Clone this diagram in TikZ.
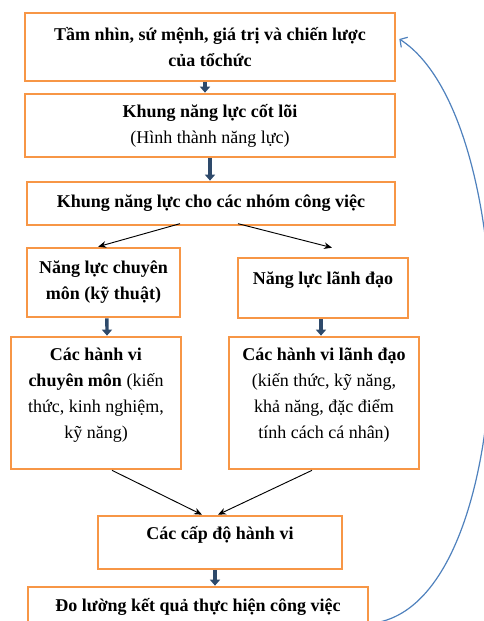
\documentclass[tikz,border=0pt]{standalone}
\usepackage{fontspec}
\setmainfont{Liberation Serif}
\usetikzlibrary{arrows.meta}

\definecolor{boxorange}{HTML}{F79646}
\definecolor{arrownavy}{HTML}{2E4A6B}
\definecolor{loopblue}{HTML}{4F81BD}

\begin{document}
\begin{tikzpicture}[x=0.75pt, y=-0.75pt,
    box/.style={rectangle, draw=boxorange, line width=2pt, align=center, inner sep=2pt, font=\fontsize{13.5}{19.5}\selectfont},
    lift/.style={text depth=#1},
    down/.style={draw=arrownavy, line width=2.6pt, -{Triangle[length=4.5pt,width=7.5pt]}},
    split/.style={draw=black, line width=0.7pt, -{Stealth[length=6pt,width=5pt]}},
    back/.style={draw=loopblue, line width=0.9pt, -{Straight Barb[length=4pt,width=9pt]}}]
    \useasboundingbox (0,0) rectangle (484,621);
    \clip (0,0) rectangle (484,621);

    % Nodes
    \node (vision) [box, minimum width=277.5pt, minimum height=51pt] at (210,47) {\textbf{Tầm nhìn, sứ mệnh, giá trị và chiến lược}\\\textbf{của tổchức}};
    \node (core) [box, minimum width=277.5pt, minimum height=47.25pt] at (210,125.5) {\textbf{Khung năng lực cốt lõi}\\(Hình thành năng lực)};
    \node (groups) [box, minimum width=276pt, minimum height=32.25pt] at (211,203.5) {\textbf{Khung năng lực cho các nhóm công việc}};

    \node (expert) [box, minimum width=114.75pt, minimum height=51.75pt] at (103.5,282.5) {\textbf{Năng lực chuyên}\\\textbf{môn (kỹ thuật)}};
    \node (leader) [box, lift=15pt, minimum width=127.5pt, minimum height=45pt] at (323,288) {\textbf{Năng lực lãnh đạo}};

    \node (expertbeh) [box, lift=15pt, minimum width=127.5pt, minimum height=99pt] at (96,403) {\textbf{Các hành vi}\\\textbf{chuyên môn} (kiến\\thức, kinh nghiệm,\\kỹ năng)};
    \node (leaderbeh) [box, lift=15pt, minimum width=142.5pt, minimum height=99pt] at (324,403) {\textbf{Các hành vi lãnh đạo}\\(kiến thức, kỹ năng,\\khả năng, đặc điểm\\tính cách cá nhân)};

    \node (levels) [box, lift=14pt, minimum width=183pt, minimum height=39.75pt] at (220,542.5) {\textbf{Các cấp độ hành vi}};
    \node (measure) [box, lift=13pt, minimum width=255pt, minimum height=39.75pt] at (198,613.5) {\textbf{Đo lường kết quả thực hiện công việc}};

    % Arrows
    \draw [down] ([xshift=-3.75pt]vision.south) -- ([xshift=-3.75pt]core.north);
    \draw [down] (core.south) -- (core.south |- groups.north);
    \draw [split] ([xshift=-23.25pt,yshift=2pt]groups.south) -- ([xshift=-4pt]expert.north);
    \draw [split] ([xshift=20.25pt,yshift=2pt]groups.south) -- ([xshift=6.75pt,yshift=6.75pt]leader.north);
    \draw [down] ([xshift=2.6pt]expert.south) -- ([xshift=8.25pt]expertbeh.north);
    \draw [down] ([xshift=-1.5pt]leader.south) -- ([xshift=-2.25pt]leaderbeh.north);
    \draw [split] ([xshift=12pt]expertbeh.south) -- ([xshift=-13.5pt]levels.north);
    \draw [split] ([xshift=-9pt]leaderbeh.south) -- ([xshift=-1.5pt]levels.north);
    \draw [down] ([xshift=-3.75pt]levels.south) -- ([xshift=12.75pt]measure.north);

    % Feedback
    \draw [back] ([shift={(7.5pt,-6.4pt)}]measure.east) .. controls (525,590) and (525,120) .. ([shift={(2.25pt,6pt)}]vision.east);
\end{tikzpicture}
\end{document}
